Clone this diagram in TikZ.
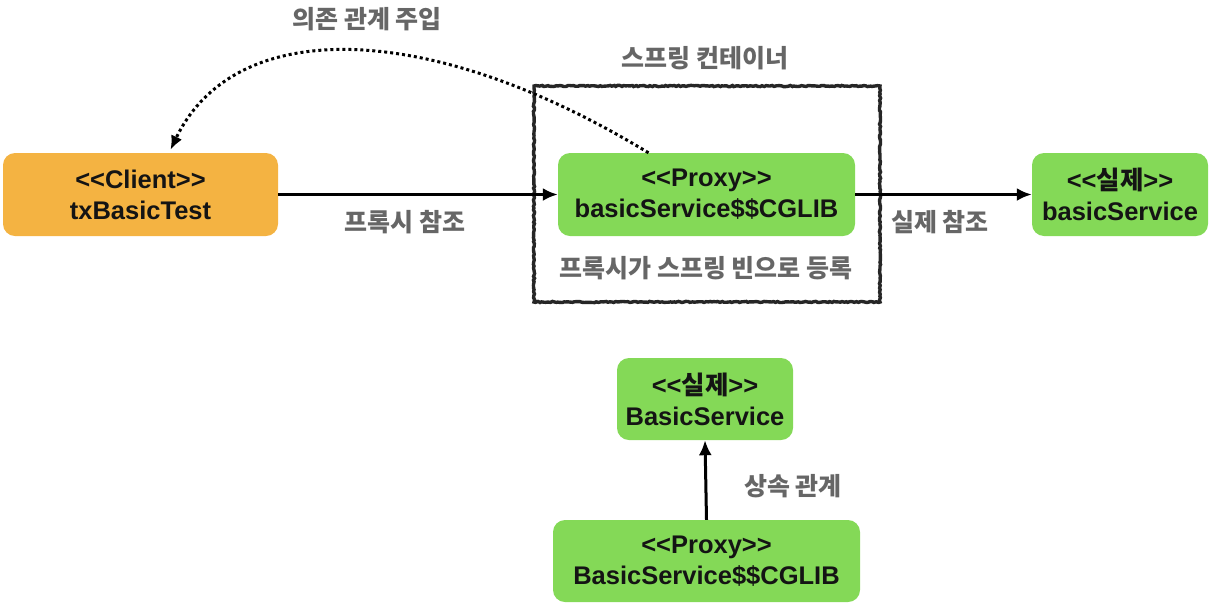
\documentclass[tikz,border=0pt]{standalone}
\usepackage{fontspec}
\setmainfont{Liberation Sans}[Ligatures=NoCommon]
\newfontfamily\kr{Noto Sans CJK KR}
\usetikzlibrary{arrows.meta,decorations.pathmorphing}
\definecolor{orangebox}{HTML}{F4B342}
\definecolor{greenbox}{HTML}{84D957}
\definecolor{labelgray}{HTML}{666666}
\newcommand{\lt}{<\kern0pt<}
\newcommand{\gt}{>\kern0pt>}
\tikzset{
  card/.style={rounded corners=12pt, align=center, inner sep=0pt,
    minimum height=83pt, font=\fontsize{25.5}{31}\selectfont\bfseries, text=black!92},
  lbl/.style={font=\kr\fontsize{25}{28}\selectfont\bfseries, text=labelgray, inner sep=0pt},
  conn/.style={line width=3pt, -{Latex[length=15pt,width=13pt]}},
}
\begin{document}
\begin{tikzpicture}[x=1pt,y=-1pt]
\useasboundingbox (0,0) rectangle (1212,614);
% container
\draw[line width=3.4pt, black!85, decorate, decoration={random steps,segment length=2pt,amplitude=0.6pt}]
  (534,86) rectangle (880,302);
\node[card, fill=orangebox, minimum width=275pt] (client) at (140.5,194.5) {\lt Client\gt\\txBasicTest};
\node[card, fill=greenbox, minimum width=297pt] (proxy) at (706.5,194.5) {\lt Proxy\gt\\basicService\$\$CGLIB};
\node[card, fill=greenbox, minimum width=176pt] (real) at (1120,194.5) {\lt{\kr 실제}\gt\\basicService};
\node[card, fill=greenbox, minimum width=176pt, minimum height=82pt] (breal) at (705,399) {\lt{\kr 실제}\gt\\BasicService};
\node[card, fill=greenbox, minimum width=307pt, minimum height=82pt] (bproxy) at (706.5,561) {\lt Proxy\gt\\BasicService\$\$CGLIB};
% labels
\node[lbl] (l1) at (367,19) {의존 관계 주입};
\node[lbl] (l2) at (705,58) {스프링 컨테이너};
\node[lbl] (l3) at (405,222) {프록시 참조};
\node[lbl] (l4) at (940,222) {실제 참조};
\node[lbl] (l5) at (706,268) {프록시가 스프링 빈으로 등록};
\node[lbl] (l6) at (793,486) {상속 관계};
% connectors
\draw[conn] (client.east) -- (proxy.west);
\draw[conn] (proxy.east) -- (real.west);
\draw[conn] (bproxy.north) -- (breal.south);
\coordinate (dstart) at ([xshift=-58pt]proxy.north);
\coordinate (dend) at ([xshift=30pt,yshift=3pt]client.north);
\draw[line width=3pt, dash pattern=on 3pt off 3pt, -{Latex[length=14pt,width=12pt]}]
  (dstart) .. controls (430,20) and (235,15) .. (dend);
\end{tikzpicture}
\end{document}
